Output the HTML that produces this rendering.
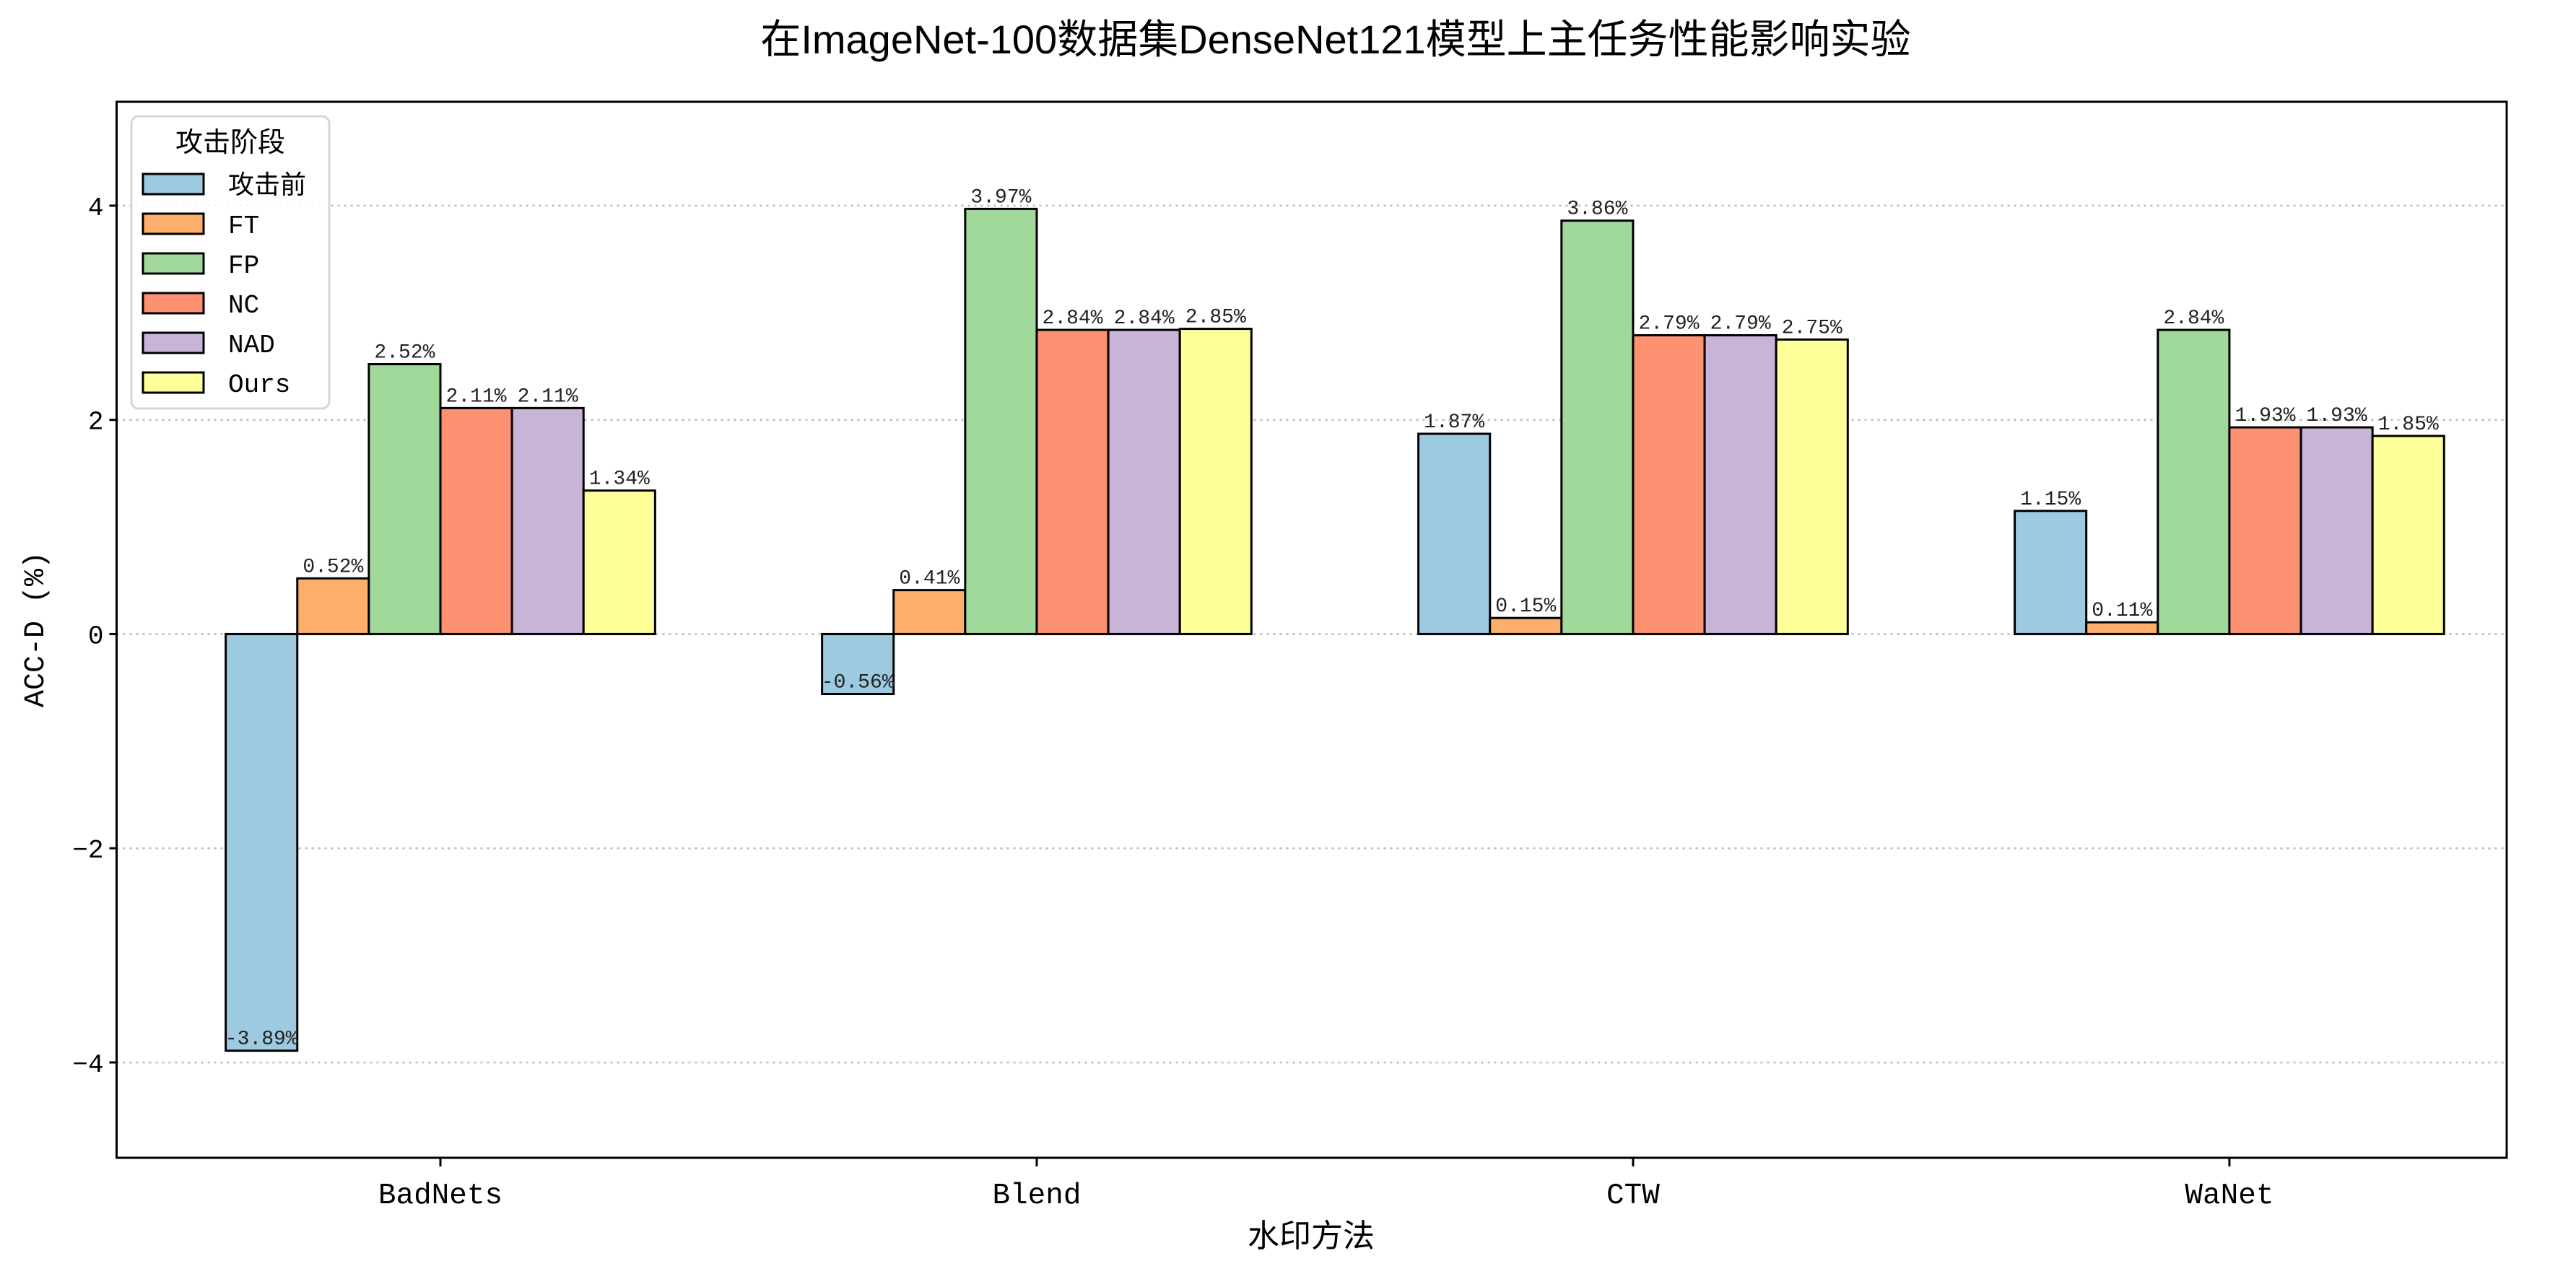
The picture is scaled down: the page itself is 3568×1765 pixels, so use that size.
<!DOCTYPE html>
<html><head><meta charset="utf-8">
<style>
html,body{margin:0;padding:0;background:#fff;}
svg{display:block;font-family:"Liberation Mono","WenQuanYi Zen Hei","Noto Sans CJK SC",monospace;}
</style></head>
<body>
<svg id="chart" width="3568" height="1765" viewBox="0 0 3568 1765" xmlns="http://www.w3.org/2000/svg">
<rect x="0" y="0" width="3568" height="1765" fill="#fff"/>
<text x="1850" y="74" font-size="56" text-anchor="middle" font-family="'Liberation Sans','WenQuanYi Zen Hei','Noto Sans CJK SC',sans-serif">在ImageNet-100数据集DenseNet121模型上主任务性能影响实验</text>
<g id="grid"></g>
<g id="bars"></g>
<g id="labels"></g>
<rect x="161.5" y="141" width="3310.5" height="1463" fill="none" stroke="#000" stroke-width="3"/>
<g id="yaxis"></g>
<g id="xaxis"></g>
<text transform="translate(60,872) rotate(-90)" font-size="40" text-anchor="middle">ACC-D (%)</text>
<text x="1816" y="1727" font-size="44" text-anchor="middle" font-family="'Liberation Sans','WenQuanYi Zen Hei','Noto Sans CJK SC',sans-serif">水印方法</text>
<g id="legend"></g>
</svg>
<script>
const categories = ["BadNets","Blend","CTW","WaNet"];
const seriesNames = ["攻击前","FT","FP","NC","NAD","Ours"];
const s0 = [-3.89,-0.56,1.87,1.15];
const s1 = [0.52,0.41,0.15,0.11];
const s2 = [2.52,3.97,3.86,2.84];
const s3 = [2.11,2.84,2.79,1.93];
const s4 = [2.11,2.84,2.79,1.93];
const s5 = [1.34,2.85,2.75,1.85];
const yTicks = [-4,-2,0,2,4];
const series = [s0,s1,s2,s3,s4,s5];
const colors = ["#9ecae1","#fdae6b","#a1d99b","#fc9272","#c9b3d6","#ffff99"];
const NS="http://www.w3.org/2000/svg";
const L=161.5,R=3472,T=141,B=1604;
const xmin=-0.543,xmax=3.465,ymin=-4.89,ymax=4.97;
const bw=0.12;
function X(v){return L+(v-xmin)/(xmax-xmin)*(R-L);}
function Y(v){return B-(v-ymin)/(ymax-ymin)*(B-T);}
function mk(tag,attrs,parent){const e=document.createElementNS(NS,tag);for(const k in attrs)e.setAttribute(k,attrs[k]);parent.appendChild(e);return e;}
const grid=document.getElementById('grid'),yaxis=document.getElementById('yaxis'),xaxis=document.getElementById('xaxis');
yTicks.forEach(t=>{
  const g=mk('line',{x1:L,x2:R,y1:Y(t),y2:Y(t),stroke:'#b8b8b8','stroke-width':2.5,'stroke-dasharray':'3,6'},grid);
  
  
  const tk=mk('line',{x1:L-10,x2:L,y1:Y(t),y2:Y(t),stroke:'#000','stroke-width':3},yaxis);
  
  
  const tx=mk('text',{x:L-18,y:Y(t)+13,'font-size':36,'text-anchor':'end'},yaxis);
  tx.textContent=(t<0?'\u2212':'')+Math.abs(t);
  
  
});
categories.forEach((c,i)=>{
  const tk=mk('line',{x1:X(i),x2:X(i),y1:B,y2:B+12,stroke:'#000','stroke-width':3},xaxis);
  
  
  const tx=mk('text',{x:X(i),y:B+63,'font-size':41,'text-anchor':'middle'},xaxis);
  tx.textContent=c;
  
  
});
const bars=document.getElementById('bars'),labels=document.getElementById('labels');
series.forEach((s,si)=>{
  s.forEach((v,ci)=>{
    const xc=ci+(si-2.5)*bw;
    const x1=X(xc-bw/2),x2=X(xc+bw/2);
    const y1=Y(Math.max(v,0)),y2=Y(Math.min(v,0));
    const r=mk('rect',{x:x1,y:y1,width:x2-x1,height:y2-y1,fill:colors[si],stroke:'#000','stroke-width':3},bars);
    
    
    const t=mk('text',{x:X(xc),y:Y(v)-9,'font-size':28,'text-anchor':'middle',fill:'#222'},labels);
    t.textContent=v.toFixed(2)+'%';
    
    
  });
});
const lg=document.getElementById('legend');
mk('rect',{x:182,y:161,width:274,height:405,rx:10,fill:'#fff','fill-opacity':0.85,stroke:'#d6d6d6','stroke-width':3},lg);
const lt=mk('text',{x:319,y:210,'font-size':38,'text-anchor':'middle','font-family':"'Liberation Sans','WenQuanYi Zen Hei',sans-serif"},lg);
lt.textContent='攻击阶段';


seriesNames.forEach((n,i)=>{
  const cy=255+i*55;
  const p=mk('rect',{x:198,y:cy-14,width:84,height:28,fill:colors[i],stroke:'#000','stroke-width':3},lg);
  
  
  const t=mk('text',{x:316,y:cy+13,'font-size':36},lg);
  t.textContent=n;
  
  
});
</script>
</body></html>
